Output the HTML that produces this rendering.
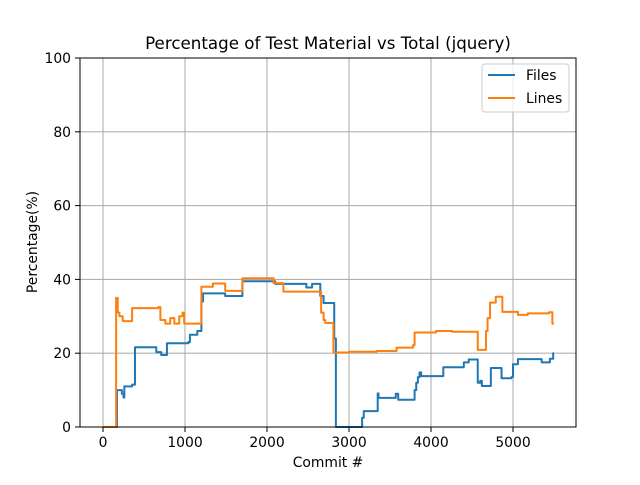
<!DOCTYPE html>
<html><head><meta charset="utf-8"><style>
body{margin:0;background:#fff}
svg text{font-family:"DejaVu Sans","Liberation Sans",sans-serif;fill:#000}
</style></head><body>
<svg id="chart" width="640" height="480" xmlns="http://www.w3.org/2000/svg">
<rect width="640" height="480" fill="#fff"/>
<text x="328" y="49" font-size="16.7" text-anchor="middle">Percentage of Test Material vs Total (jquery)</text>
<g id="grid"></g>
<g id="series"></g>
<rect x="80" y="58" width="496" height="369" fill="none" stroke="#000" stroke-width="1"/>
<g id="ticks"></g>
<text x="328" y="467" font-size="13.9" text-anchor="middle">Commit #</text>
<text transform="translate(37,242) rotate(-90)" font-size="13.9" text-anchor="middle">Percentage(%)</text>
<g>
<rect x="482" y="64" width="87" height="48" rx="3" fill="#fff" fill-opacity="0.8" stroke="#ccc"/>
<line x1="488" y1="75" x2="515" y2="75" stroke="#1f77b4" stroke-width="2"/>
<text x="526" y="80" font-size="13.9">Files</text>
<line x1="488" y1="98" x2="515" y2="98" stroke="#ff7f0e" stroke-width="2"/>
<text x="526" y="103" font-size="13.9">Lines</text>
</g>
</svg>
<script>
const xTicks=[0,1000,2000,3000,4000,5000];
const yTicks=[0,20,40,60,80,100];
const filesC=[0,170,230,250,260,355,390,650,710,740,780,1040,1060,1150,1200,1220,1490,1700,2100,2480,2550,2650,2690,2710,2820,2840,3160,3180,3200,3350,3360,3570,3600,3800,3820,3840,3860,3880,4150,4400,4460,4570,4600,4620,4730,4860,4980,5000,5060,5350,5450,5490,5500];
const filesV=[0,10,9,8,11,11.5,21.6,20.3,19.5,19.5,22.7,23,25,26,34,36.2,35.5,39.5,38.8,37.8,38.8,35.5,33.6,33.6,24,0,2.5,4.3,4.3,9.1,7.9,9,7.4,10,12,13.5,14.8,13.8,16.2,17.5,18.3,12,12.5,11.1,16,13.2,13.5,17,18.4,17.5,18.5,20,20];
const linesC=[0,160,180,200,240,355,675,700,760,820,870,930,970,990,1200,1340,1490,1700,2080,2200,2650,2660,2690,2710,2810,3000,3337,3580,3780,3800,4060,4260,4570,4660,4670,4690,4720,4790,4870,5060,5180,5440,5480,5500];
const linesV=[0,35,31,30,28.7,32.2,32.5,29,28,29.5,28,30,31,28,38,38.9,36.9,40.3,39,36.7,36.7,31,29,28.2,20.2,20.4,20.6,21.5,22.2,25.6,26,25.8,20.9,20.9,26,29.5,33.7,35.3,31.2,30.4,30.8,31.1,28,28];
const NS="http://www.w3.org/2000/svg";
const X=c=>103+c*0.082;
const Y=v=>427-v*3.69;
const grid=document.getElementById('grid'),ticks=document.getElementById('ticks'),series=document.getElementById('series');
function mk(tag,attrs,parent){const e=document.createElementNS(NS,tag);for(const k in attrs)e.setAttribute(k,attrs[k]);parent.appendChild(e);return e;}
xTicks.forEach(t=>{
 const g=mk('line',{x1:X(t),x2:X(t),y1:58,y2:427,stroke:'#b0b0b0','stroke-width':1.1},grid);
 
 
 mk('line',{x1:X(t),x2:X(t),y1:427,y2:432,stroke:'#000'},ticks);
 const tx=mk('text',{x:X(t),y:447,'font-size':13.9,'text-anchor':'middle'},ticks);
 tx.textContent=t;
 
 
});
yTicks.forEach(t=>{
 const g=mk('line',{x1:80,x2:576,y1:Y(t),y2:Y(t),stroke:'#b0b0b0','stroke-width':1.1},grid);
 
 
 mk('line',{x1:75,x2:80,y1:Y(t),y2:Y(t),stroke:'#000'},ticks);
 const tx=mk('text',{x:71,y:Y(t)+5,'font-size':13.9,'text-anchor':'end'},ticks);
 tx.textContent=t;
 
 
});
function stepPath(cs,vs){let d='M'+X(cs[0])+','+Y(vs[0]);for(let i=1;i<cs.length;i++){d+=' H'+X(cs[i])+' V'+Y(vs[i]);}return d;}
const pf=mk('path',{d:stepPath(filesC,filesV),fill:'none',stroke:'#1f77b4','stroke-width':2,'stroke-linejoin':'round'},series);


const pl=mk('path',{d:stepPath(linesC,linesV),fill:'none',stroke:'#ff7f0e','stroke-width':2,'stroke-linejoin':'round'},series);


</script>
</body></html>
